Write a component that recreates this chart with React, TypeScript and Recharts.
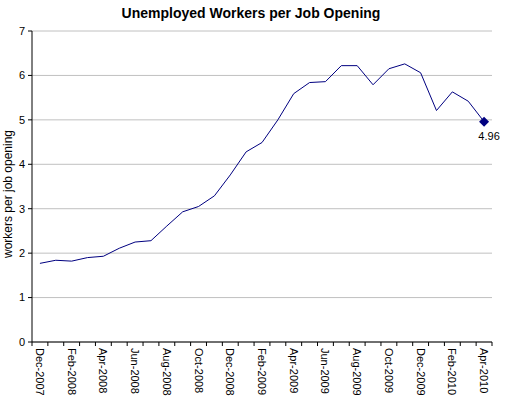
import React from 'react';
import { LineChart, Line, XAxis, YAxis, CartesianGrid } from 'recharts';

// Monthly ratio of unemployed workers to job openings, Dec-2007 .. Apr-2010
const months = [
  'Dec-2007', 'Jan-2008', 'Feb-2008', 'Mar-2008', 'Apr-2008', 'May-2008', 'Jun-2008', 'Jul-2008',
  'Aug-2008', 'Sep-2008', 'Oct-2008', 'Nov-2008', 'Dec-2008', 'Jan-2009', 'Feb-2009', 'Mar-2009',
  'Apr-2009', 'May-2009', 'Jun-2009', 'Jul-2009', 'Aug-2009', 'Sep-2009', 'Oct-2009', 'Nov-2009',
  'Dec-2009', 'Jan-2010', 'Feb-2010', 'Mar-2010', 'Apr-2010',
];
const ratio = [
  1.77, 1.84, 1.82, 1.9, 1.93, 2.11, 2.25, 2.28,
  2.61, 2.93, 3.05, 3.29, 3.76, 4.28, 4.49, 5.0,
  5.59, 5.84, 5.86, 6.22, 6.22, 5.79, 6.15, 6.26,
  6.06, 5.21, 5.63, 5.42, 4.96,
];
const yTicks = [0, 1, 2, 3, 4, 5, 6, 7];

const data = months.map((m, i) => ({ month: m, value: ratio[i] }));

const W = 509;
const H = 399;
const X_H = 57;
const M = { top: 31, right: 17, bottom: 0, left: 0 };
const Y_W = 32;
const band = (W - M.right - M.left - Y_W) / months.length;
const FONT = 'Liberation Sans, Arial, sans-serif';
const NAVY = '#000080';

const MonthTick = (props: any) => {
  const { x, y, index } = props;
  const last = index === months.length - 1;
  return (
    <g>
      <line x1={x - band / 2} x2={x - band / 2} y1={y - 6} y2={y - 2} stroke="#000" />
      {last && <line x1={x + band / 2} x2={x + band / 2} y1={y - 6} y2={y - 2} stroke="#000" />}
      {index % 2 === 0 && (
        <text
          x={x}
          y={y}
          transform={`rotate(90, ${x}, ${y})`}
          textAnchor="start"
          dominantBaseline="central"
          fontSize={11}
          fontFamily={FONT}
          fill="#000"
        >
          {months[index]}
        </text>
      )}
    </g>
  );
};

const EndDot = (props: any) => {
  const { cx, cy, index } = props;
  if (index !== ratio.length - 1) return <g key={index} />;
  return (
    <g key={index}>
      <polygon
        points={`${cx},${cy - 5} ${cx + 5},${cy} ${cx},${cy + 5} ${cx - 5},${cy}`}
        fill={NAVY}
      />
      <text x={cx + 5} y={cy + 14} textAnchor="middle" dominantBaseline="central" fontSize={11} fontFamily={FONT} fill="#000">
        {ratio[index]}
      </text>
    </g>
  );
};

export default function App() {
  return (
    <div style={{ position: 'absolute', left: 0, top: 0, width: W, height: H, background: '#fff' }}>
      <LineChart width={W} height={H} data={data} margin={M}>
        <text x={251} y={13} textAnchor="middle" dominantBaseline="central" fontSize={14} fontWeight="bold" fontFamily={FONT}>
          Unemployed Workers per Job Opening
        </text>
        <text
          x={8}
          y={194}
          transform="rotate(-90, 8, 194)"
          textAnchor="middle"
          dominantBaseline="central"
          fontSize={12}
          fontFamily={FONT}
        >
          workers per job opening
        </text>
        <CartesianGrid vertical={false} stroke="#c0c0c0" />
        <XAxis
          dataKey="month"
          interval={0}
          padding={{ left: band / 2, right: band / 2 }}
          tickLine={false}
          tickSize={4}
          tickMargin={2}
          axisLine={{ stroke: '#000' }}
          tick={<MonthTick />}
          height={X_H}
        />
        <YAxis
          width={Y_W}
          domain={[0, 7]}
          ticks={yTicks}
          interval={0}
          tickSize={4}
          tickMargin={3}
          axisLine={{ stroke: '#000' }}
          tickLine={{ stroke: '#000' }}
          tick={{ fontSize: 11, fill: '#000', fontFamily: FONT }}
        />
        <Line
          type="linear"
          dataKey="value"
          stroke={NAVY}
          strokeWidth={1}
          dot={EndDot}
          activeDot={false}
          isAnimationActive={false}
        />
      </LineChart>
    </div>
  );
}
